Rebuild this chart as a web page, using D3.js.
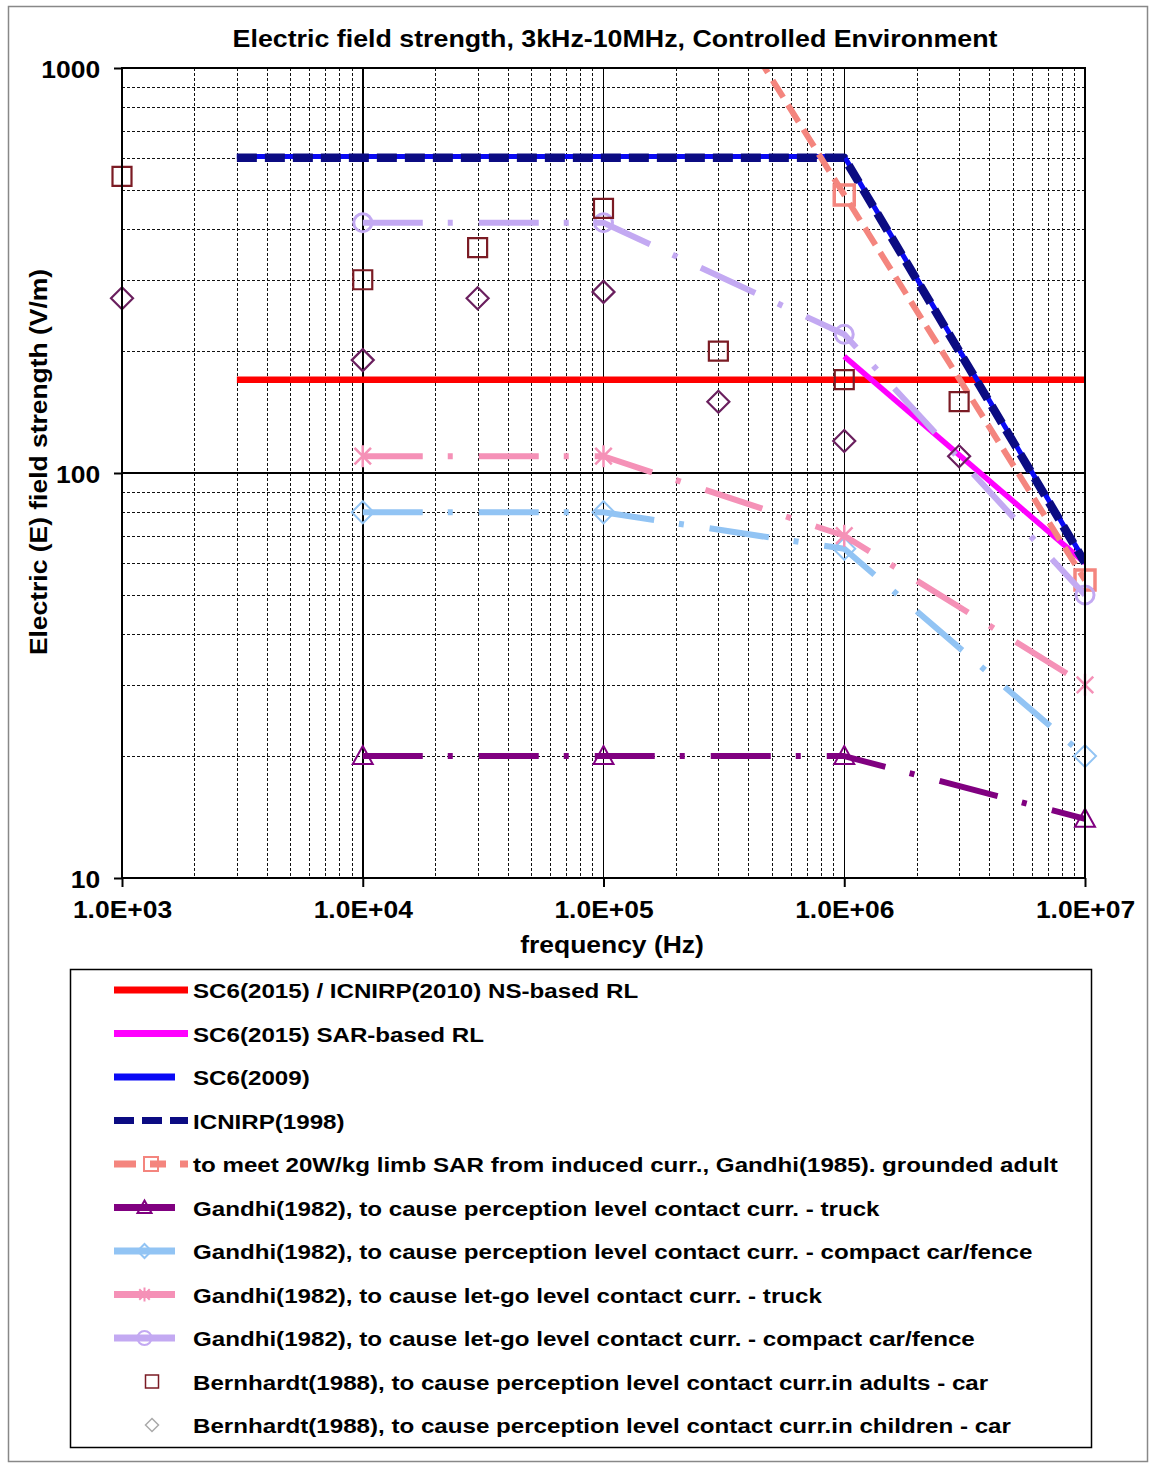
<!DOCTYPE html>
<html><head><meta charset="utf-8">
<script src="https://cdn.jsdelivr.net/npm/d3@7"></script>
<style>
body{margin:0;background:#fff}
svg text{font-family:"Liberation Sans",Arial,sans-serif;font-weight:bold;fill:#000}
</style>
</head><body>
<svg id="c" width="1149" height="1465"></svg>
<script>
// ---------------- data ----------------
const chartTitle = "Electric field strength, 3kHz-10MHz, Controlled Environment";
const xAxisTitle = "frequency (Hz)";
const yAxisTitle = "Electric (E) field strength (V/m)";
const xTickValues = [1e3, 1e4, 1e5, 1e6, 1e7];
const xTickLabels = ["1.0E+03", "1.0E+04", "1.0E+05", "1.0E+06", "1.0E+07"];
const yTickValues = [10, 100, 1000];
const yTickLabels = ["10", "100", "1000"];

const legendLabels = [
  "SC6(2015) / ICNIRP(2010) NS-based RL",
  "SC6(2015) SAR-based RL",
  "SC6(2009)",
  "ICNIRP(1998)",
  "to meet 20W/kg limb SAR from induced curr., Gandhi(1985). grounded adult",
  "Gandhi(1982), to cause perception level contact curr. - truck",
  "Gandhi(1982), to cause perception level contact curr. - compact car/fence",
  "Gandhi(1982), to cause let-go level contact curr. - truck",
  "Gandhi(1982), to cause let-go level contact curr. - compact car/fence",
  "Bernhardt(1988), to cause perception level contact curr.in adults - car",
  "Bernhardt(1988), to cause perception level contact curr.in children - car"
];

const nsRlFreq = [3e3, 1e7];
const nsRlE = [170, 170];
const sarRlFreq = [1e6, 1e7];
const sarRlE = [194, 60];
const sc2009Freq = [3e3, 1e6, 1e7];
const sc2009E = [605, 605, 60.5];
const icnirp1998Freq = [3e3, 1e6, 1e7];
const icnirp1998E = [600, 600, 60];
const gandhi1985Freq = [1e5, 1e6, 1e7];
const gandhi1985E = [4340, 486, 54.4];
const gandhiFreq = [1e4, 1e5, 1e6, 1e7];
const gandhiPercTruckE = [20, 20, 20, 14];
const gandhiPercCarE = [80, 80, 65, 20];
const gandhiLetGoTruckE = [110, 110, 70, 30];
const gandhiLetGoCarE = [415, 415, 220, 50];
const bernhardtFreq = [1e3, 1e4, 3e4, 1e5, 3e5, 1e6, 3e6];
const bernhardtAdultE = [540, 300, 360, 450, 200, 170, 150];
const bernhardtChildE = [270, 190, 270, 280, 150, 120, 110];

// ---------------- setup ----------------
const svg = d3.select("#c");
const SX = 1.15;
const L = 122, R = 1085, T = 68, B = 878;
const x = d3.scaleLog().domain([1e3, 1e7]).range([L, R]);
const y = d3.scaleLog().domain([10, 1000]).range([B, T]);

function txt(parent, px, py, s, size, anchor, rot) {
  return parent.append("text")
    .attr("transform", `translate(${px},${py})` + (rot ? ` rotate(${rot})` : "") + ` scale(${SX},1)`)
    .attr("text-anchor", anchor)
    .style("font-size", size + "px")
    .text(s);
}

// outer frame
svg.append("rect").attr("x", 8.5).attr("y", 6.5).attr("width", 1139).attr("height", 1455)
  .attr("fill", "none").attr("stroke", "#888").attr("stroke-width", 1.5);

// title
txt(svg, 615, 47, chartTitle, 23.3, "middle");

// grid
const grid = svg.append("g").attr("shape-rendering", "crispEdges");
const xMinor = x.ticks().filter(d => !xTickValues.includes(d));
const yMinor = y.ticks().filter(d => !yTickValues.includes(d));
grid.selectAll(".vx").data(xMinor).join("line")
  .attr("x1", d => Math.round(x(d)) + 0.5).attr("x2", d => Math.round(x(d)) + 0.5).attr("y1", T).attr("y2", B)
  .attr("stroke", "#111").attr("stroke-width", 1).attr("stroke-dasharray", "3,2");
grid.selectAll(".hy").data(yMinor).join("line")
  .attr("y1", d => Math.round(y(d)) + 0.5).attr("y2", d => Math.round(y(d)) + 0.5).attr("x1", L).attr("x2", R)
  .attr("stroke", "#111").attr("stroke-width", 1).attr("stroke-dasharray", "3,2");
grid.selectAll(".vM").data(xTickValues.slice(1, -1)).join("line")
  .attr("x1", d => x(d)).attr("x2", d => x(d)).attr("y1", T).attr("y2", B)
  .attr("stroke", "#000").attr("stroke-width", 1.5);
grid.selectAll(".hM").data(yTickValues.slice(1, -1)).join("line")
  .attr("y1", d => y(d)).attr("y2", d => y(d)).attr("x1", L).attr("x2", R)
  .attr("stroke", "#000").attr("stroke-width", 2.5);

// axes
const gx = svg.append("g").attr("transform", `translate(0,${B})`)
  .call(d3.axisBottom(x).tickValues(xTickValues).tickFormat((d, i) => xTickLabels[i]).tickSize(9));
gx.select(".domain").remove();
gx.selectAll("line").attr("stroke", "#000").attr("stroke-width", 2);
gx.selectAll("text").attr("y", 40).attr("dy", 0).attr("font-family", null).attr("font-size", null)
  .style("font-size", "23px").attr("transform", `scale(${SX},1)`).attr("fill", "#000");

const gy = svg.append("g").attr("transform", `translate(${L},0)`)
  .call(d3.axisLeft(y).tickValues(yTickValues).tickFormat((d, i) => yTickLabels[i]).tickSize(8));
gy.select(".domain").remove();
gy.selectAll("line").attr("stroke", "#000").attr("stroke-width", 2);
gy.selectAll("text").attr("x", -19).attr("dy", 0).attr("y", 9).attr("font-family", null).attr("font-size", null)
  .style("font-size", "23px").attr("transform", `scale(${SX},1)`).attr("fill", "#000");

txt(svg, 612, 953, xAxisTitle, 23, "middle");
txt(svg, 47, 462, yAxisTitle, 23, "middle", -90);

// clip
svg.append("clipPath").attr("id", "pc").append("rect")
  .attr("x", L).attr("y", T).attr("width", R - L).attr("height", B - T);

// ---------------- series ----------------
const DASHDOT = "60,25,5,26";
const series = [
  {f: nsRlFreq, e: nsRlE, color: "#FF0000", w: 6.5, dash: null, marker: null, lx2: 188},
  {f: sarRlFreq, e: sarRlE, color: "#FF00FF", w: 5.5, dash: null, marker: null, lx2: 188},
  {f: sc2009Freq, e: sc2009E, color: "#0A0AF5", w: 5, dash: null, marker: null, lx2: 175},
  {f: icnirp1998Freq, e: icnirp1998E, color: "#0B0B82", w: 8.5, dash: "20,8", marker: null, lx2: 188},
  {f: gandhi1985Freq, e: gandhi1985E, color: "#F4857E", w: 6, dash: "20,9", marker: "square", ms: 20, mw: 3.5, lx2: 188},
  {f: gandhiFreq, e: gandhiPercTruckE, color: "#800080", w: 6, dash: DASHDOT, marker: "triangle", ms: 20, mw: 2, lx2: 175},
  {f: gandhiFreq, e: gandhiPercCarE, color: "#92C4F4", w: 6, dash: DASHDOT, marker: "diamond", ms: 22, mw: 2, lx2: 175},
  {f: gandhiFreq, e: gandhiLetGoTruckE, color: "#F591B7", w: 6, dash: DASHDOT, marker: "asterisk", ms: 22, mw: 2.5, lx2: 175},
  {f: gandhiFreq, e: gandhiLetGoCarE, color: "#C3A9F2", w: 6, dash: DASHDOT, marker: "circle", ms: 18, mw: 3, lx2: 175},
  {f: bernhardtFreq, e: bernhardtAdultE, color: "#7B1B24", w: 0, dash: null, marker: "square", ms: 19, mw: 2.2, lx2: null},
  {f: bernhardtFreq, e: bernhardtChildE, color: "#6A1F5E", w: 0, dash: null, marker: "diamond", ms: 22, mw: 2.2, lx2: null}
];

function markerPath(type, s) {
  const h = s / 2;
  switch (type) {
    case "square": return `M${-h},${-h}H${h}V${h}H${-h}Z`;
    case "diamond": return `M0,${-h}L${h},0L0,${h}L${-h},0Z`;
    case "triangle": return `M0,${-h}L${h},${h * 0.8}L${-h},${h * 0.8}Z`;
    case "circle": return `M${h},0A${h},${h} 0 1,1 ${-h},0A${h},${h} 0 1,1 ${h},0Z`;
    case "asterisk": {
      const a = h * 0.75;
      return `M0,${-h}V${h}M${-a},${-a}L${a},${a}M${-a},${a}L${a},${-a}`;
    }
  }
  return "";
}

const line = d3.line().x(d => x(d[0])).y(d => y(d[1]));
const plot = svg.append("g");

series.forEach(s => {
  const pts = s.f.map((f, i) => [f, s.e[i]]);
  if (s.w > 0) {
    plot.append("path").datum(pts).attr("d", line).attr("clip-path", "url(#pc)")
      .attr("fill", "none").attr("stroke", s.color).attr("stroke-width", s.w)
      .attr("stroke-dasharray", s.dash).attr("stroke-linejoin", "round");
  }
  if (s.marker) {
    plot.selectAll(null).data(pts.filter(p => p[1] <= 1000 && p[1] >= 10)).join("path")
      .attr("transform", d => `translate(${x(d[0])},${y(d[1])})`)
      .attr("d", markerPath(s.marker, s.ms))
      .attr("fill", "none").attr("stroke", s.color).attr("stroke-width", s.mw);
  }
});

// plot frame
svg.append("rect").attr("x", L).attr("y", T).attr("width", R - L).attr("height", B - T)
  .attr("fill", "none").attr("stroke", "#000").attr("stroke-width", 2);

// ---------------- legend ----------------
const lg = svg.append("g");
lg.append("rect").attr("x", 70.5).attr("y", 969.5).attr("width", 1021).attr("height", 478)
  .attr("fill", "none").attr("stroke", "#000").attr("stroke-width", 1.5);
series.forEach((s, i) => {
  const cy = 990 + i * 43.5;
  const lx1 = 114;
  if (s.w > 0) {
    lg.append("line").attr("x1", lx1).attr("x2", s.lx2).attr("y1", cy).attr("y2", cy)
      .attr("stroke", s.color).attr("stroke-width", 7)
      .attr("stroke-dasharray", i === 3 ? "20,8" : (i === 4 ? "22,14,16,14,12" : null))
      .attr("stroke-linecap", "butt");
  }
  if (s.marker) {
    const small = s.w === 0;
    lg.append("path").attr("transform", `translate(${small ? 152 : (lx1 + s.lx2) / 2},${cy})`)
      .attr("d", markerPath(s.marker, small ? 13 : 14))
      .attr("fill", "none")
      .attr("stroke", i === 10 ? "#AAAAAA" : s.color)
      .attr("stroke-width", small ? 1.5 : 2);
  }
  txt(lg, 193, cy + 8, legendLabels[i], 21, "start");
});
</script>
</body></html>
